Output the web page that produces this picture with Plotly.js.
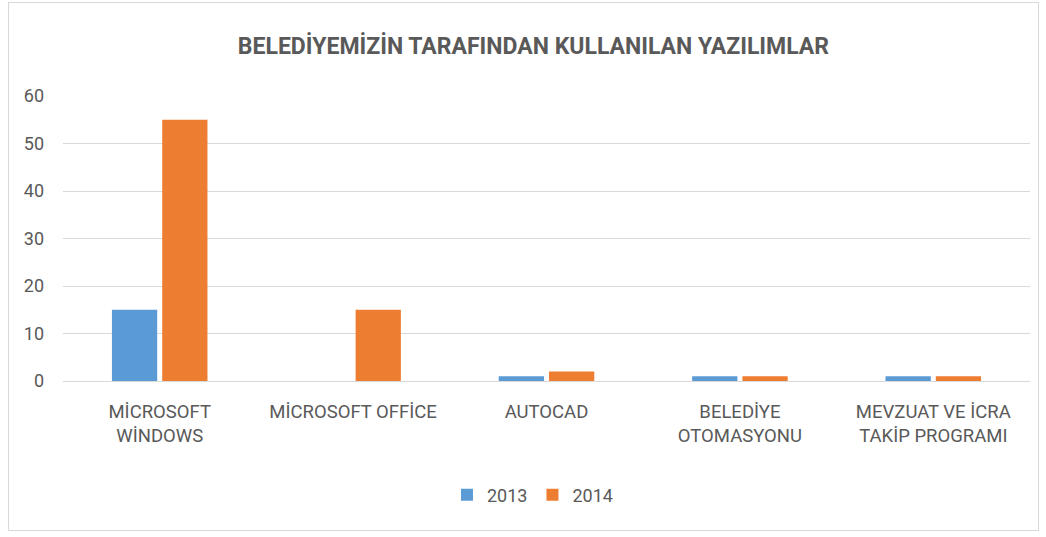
<!DOCTYPE html>
<html>
<head>
<meta charset="utf-8">
<script src="https://cdn.plot.ly/plotly-3.0.1.min.js"></script>
<style>
html,body{margin:0;padding:0;background:#fff;}
#frame{position:absolute;left:8px;top:2px;width:1031px;height:529px;border:1px solid #d9d9d9;box-sizing:border-box;pointer-events:none;}
#chart{position:absolute;left:0;top:0;width:1046px;height:537px;}
</style>
</head>
<body>
<div id="chart"></div>
<div id="frame"></div>
<script>
const categories = ["MİCROSOFT<br>WİNDOWS", "MİCROSOFT OFFİCE", "AUTOCAD", "BELEDİYE<br>OTOMASYONU", "MEVZUAT VE İCRA<br>TAKİP PROGRAMI"];
const series2013 = [15, 0, 1, 1, 1];
const series2014 = [55, 15, 2, 1, 1];
const seriesNames = ["2013", "2014"];
const yTicks = [0, 10, 20, 30, 40, 50, 60];

const FONT = "Roboto, 'Open Sans', sans-serif";
const GREY = "#595959";

const data = [
  {type: "bar", name: seriesNames[0], x: categories, y: series2013, marker: {color: "#5b9bd5"}},
  {type: "bar", name: seriesNames[1], x: categories, y: series2014, marker: {color: "#ed7d31"}}
];

const layout = {
  width: 1046, height: 537,
  margin: {l: 63, r: 16, t: 96, b: 156, pad: 0},
  paper_bgcolor: "#fff", plot_bgcolor: "#fff",
  font: {family: FONT, color: GREY, size: 18},
  title: {text: "<b>BELEDİYEMİZİN TARAFINDAN KULLANILAN YAZILIMLAR</b>", x: 0.51, xanchor: "center", y: 0.915, yanchor: "middle", font: {family: FONT, size: 23, color: GREY}},
  barmode: "group", bargap: 0.48, bargroupgap: 0.1,
  xaxis: {type: "category", showgrid: false, showline: true, linecolor: "#d9d9d9", linewidth: 1, ticks: "", ticklabelstandoff: 14, tickfont: {size: 18.5, color: GREY}, fixedrange: true},
  yaxis: {range: [0, 60], tickvals: yTicks, showgrid: true, gridcolor: "#d9d9d9", gridwidth: 1, zeroline: false, showline: false, ticks: "", ticklabelstandoff: 18, tickfont: {size: 18, color: GREY}, fixedrange: true},
  showlegend: true,
  legend: {orientation: "h", x: 0.4855, xanchor: "center", y: -0.40, yanchor: "middle", font: {size: 18, color: GREY}, itemwidth: 30, tracegroupgap: 0}
};

Plotly.newPlot("chart", data, layout, {displayModeBar: false, staticPlot: true});
</script>
</body>
</html>
